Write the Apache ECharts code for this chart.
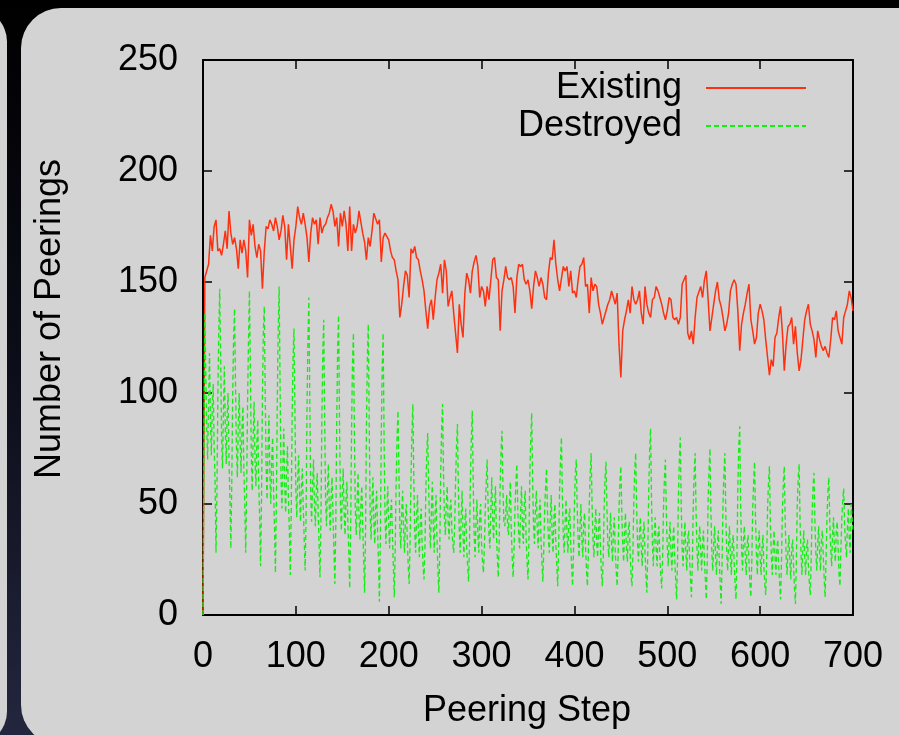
<!DOCTYPE html>
<html>
<head>
<meta charset="utf-8">
<script src="https://cdn.jsdelivr.net/npm/echarts@6/dist/echarts.min.js"></script>
<style>
  html, body { margin: 0; padding: 0; background: #000; }
  #chart { width: 899px; height: 735px; }
</style>
</head>
<body>
<div id="chart"></div>
<script>
// axis ranges / ticks
const xMax = 700
const yMax = 250
const existingStep = 2 // red series sampled every 2 peering steps

// "Existing" peerings, one value every 2 steps (0..700)
const existing = [
  0,152,152,158,171,164,175,178,164,165,
  162,167,173,165,182,172,167,170,165,156,
  169,163,169,164,152,178,171,176,166,161,
  167,164,147,164,175,174,178,176,173,179,
  175,169,173,180,175,160,176,166,156,169,
  175,184,179,176,181,176,170,159,172,179,
  176,178,167,179,172,175,176,179,181,185,
  182,175,179,166,181,175,182,176,164,184,
  164,176,172,175,182,182,172,168,160,170,
  166,173,181,181,176,178,159,170,172,172,
  169,164,161,160,155,
  151,134,140,148,155,153,143,165,163,166,
  161,160,155,151,146,137,129,139,142,133,
  143,151,154,158,145,160,155,139,143,146,
  136,127,118,140,131,125,145,154,151,145,
  155,159,162,157,143,148,146,139,148,142,
  142,160,161,152,151,128,146,151,157,152,
  151,152,148,136,152,158,157,158,151,149,
  151,146,138,148,155,152,148,152,149,143,
  142,154,161,160,169,158,151,146,146,157,
  155,157,148,155,145,146,143,151,157,158,
  161,148,149,136,152,146,149,148,140,136,
  131,134,134,140,142,146,143,140,145,122,
  107,128,133,137,142,136,
  148,142,140,142,146,136,131,148,140,136,
  134,142,143,148,146,143,140,136,133,137,
  143,142,134,133,134,131,134,149,151,153,
  127,124,128,122,134,143,143,148,143,151,
  155,142,128,134,140,146,150,142,139,134,
  128,131,136,146,149,151,149,137,119,131,
  136,140,145,149,133,128,122,125,136,140,
  137,133,124,116,108,115,112,125,127,134,
  139,127,110,122,130,131,134,122,130,118,
  110,115,124,133,137,140,131,128,124,116,
  128,124,121,119,121,118,116,124,134,133,
  137,128,125,122,134,137,140,146,143,137
]

// "Destroyed" peerings, one value per step (0..700)
const destroyed = [
  0, 70,
  136,110, 84, 70, 96,118, 88, 72, 94,104, 76, 60, 28, 55, 98,128,
  147,118, 80, 66, 92,112, 84, 68, 90,100, 70, 52, 30, 60,100,126,
  138,104, 76, 62, 86,100, 78, 64, 84, 94, 66, 50, 28, 56, 96,124,
  146,112, 72, 56, 80, 96, 70, 58, 78, 88, 60, 44, 22, 52, 98,128,
  139,100, 66, 52, 74, 90, 64, 50, 70, 80, 56, 40, 19, 50, 96,130,
  148,104, 62, 48, 68, 84, 58, 46, 66, 76, 52, 38, 18, 46, 90,116,
  129, 92, 56, 44, 62, 72, 54, 42, 58, 66, 48, 34, 20, 44, 92,124,
  143, 98, 54, 42, 58, 70, 50, 40, 56, 64, 46, 32, 17, 42, 88,118,
  133, 90, 52, 40, 56, 68, 48, 38, 54, 62, 44, 30, 14, 40, 86,120,
  135, 88, 50, 38, 54, 66, 46, 36, 52, 60, 42, 28, 12, 38, 84,114,
  127, 84, 48, 36, 52, 64, 44, 34, 50, 58, 40, 26, 10, 36, 84,116,
  131, 86, 46, 34, 50, 62, 42, 32, 48, 56, 38, 24,  6, 34, 82,112,
  127, 80, 44, 32, 48, 58, 40, 30, 46, 52, 36, 22,  8, 30, 60, 80,
   92, 64, 40, 30, 46, 56, 38, 28, 44, 50, 34, 22, 14, 32, 62, 82,
   95, 62, 38, 28, 44, 54, 36, 26, 42, 48, 32, 22, 16, 30, 56, 74,
   82, 58, 40, 30, 48, 60, 40, 28, 46, 54, 34, 20, 10, 30, 64, 84,
   95, 64, 44, 36, 50, 58, 42, 34, 48, 52, 38, 32, 28, 40, 60, 76,
   86, 58, 38, 28, 44, 56, 36, 26, 42, 48, 30, 22, 15, 32, 62, 80,
   92, 60, 36, 26, 42, 52, 36, 28, 44, 50, 32, 24, 19, 30, 48, 60,
   70, 50, 36, 30, 48, 62, 42, 34, 50, 58, 36, 26, 17, 34, 58, 74,
   83, 58, 42, 40, 46, 54, 40, 36, 52, 60, 38, 26, 17, 30, 48, 60,
   68, 48, 36, 30, 46, 58, 40, 32, 50, 56, 34, 24, 16, 34, 64, 80,
   91, 60, 40, 32, 48, 56, 38, 30, 46, 52, 34, 24, 15, 30, 48, 58,
   66, 46, 34, 28, 44, 54, 36, 28, 44, 50, 32, 22, 13, 30, 56, 70,
   80, 54, 36, 28, 42, 52, 36, 28, 44, 48, 32, 22, 13, 28, 50, 64,
   70, 48, 34, 26, 40, 50, 34, 26, 42, 46, 30, 20, 13, 28, 50, 64,
   73, 50, 34, 26, 40, 48, 32, 26, 40, 46, 30, 20, 13, 26, 48, 62,
   69, 48, 32, 26, 38, 46, 32, 24, 38, 44, 28, 20, 13, 26, 48, 60,
   67, 46, 32, 24, 38, 46, 30, 24, 38, 42, 28, 18, 13, 28, 52, 66,
   73, 48, 32, 24, 36, 44, 30, 22, 36, 42, 28, 18, 10, 28, 56, 74,
   84, 52, 32, 22, 36, 44, 30, 22, 36, 40, 26, 18, 12, 26, 50, 62,
   70, 46, 30, 22, 34, 42, 28, 20, 34, 40, 26, 16,  7, 24, 54, 70,
   80, 50, 30, 22, 34, 42, 28, 20, 34, 38, 26, 16,  8, 24, 50, 64,
   73, 46, 30, 20, 34, 40, 28, 20, 32, 38, 24, 16,  7, 24, 52, 66,
   75, 46, 28, 20, 32, 40, 26, 18, 32, 38, 24, 14,  5, 24, 50, 64,
   73, 46, 28, 20, 32, 40, 26, 18, 32, 36, 24, 14,  7, 26, 58, 76,
   85, 50, 30, 20, 34, 40, 26, 18, 32, 36, 24, 14,  8, 24, 48, 60,
   69, 44, 28, 18, 32, 38, 26, 18, 30, 36, 22, 14,  9, 24, 48, 60,
   67, 42, 28, 18, 30, 38, 26, 18, 30, 34, 22, 14,  7, 24, 48, 60,
   67, 42, 26, 18, 30, 36, 24, 16, 30, 34, 22, 12,  5, 24, 50, 62,
   68, 42, 28, 18, 30, 38, 26, 18, 30, 34, 22, 14,  9, 26, 46, 58,
   64, 42, 28, 20, 32, 40, 28, 20, 34, 38, 26, 16,  8, 26, 44, 56,
   62, 42, 30, 22, 36, 44, 30, 24, 38, 42, 30, 18, 13, 30, 44, 52,
   57, 40, 32, 26, 40, 48, 34, 28, 50, 44, 37
]

const FONT = '"Liberation Sans", Arial, Helvetica, sans-serif'
const RED = '#ff3010'
const GREEN = '#14ee14'

const chart = echarts.init(document.getElementById('chart'))

// 坐标轴公共样式（四边内刻度，gnuplot 风格）
const axisCommon = (show) => ({
  axisLine: { show: true, onZero: false, lineStyle: { color: '#000', width: 2 } },
  axisTick: { show: true, inside: true, length: 9, lineStyle: { color: '#000', width: 1.5 } },
  splitLine: { show: false },
  axisLabel: { show: show, color: '#000', fontSize: 36, fontFamily: FONT }
})

// 图例：文字右对齐，线段在右侧
const legendCommon = {
  orient: 'vertical',
  right: 92,
  align: 'right',
  padding: 0,
  itemWidth: 100,
  itemHeight: 40,
  itemGap: 0,
  selectedMode: false,
  itemStyle: { opacity: 0, borderWidth: 0 },
  textStyle: { color: '#000', fontSize: 36, fontFamily: FONT, lineHeight: 40, padding: [0, 19, 0, 0] }
}

const option = {
  animation: false,
  backgroundColor: {
    type: 'linear', x: 0, y: 0, x2: 0, y2: 1,
    colorStops: [{ offset: 0, color: '#000000' }, { offset: 0.5, color: '#0c0d18' }, { offset: 1, color: '#23263e' }]
  },
  graphic: [
    // panels
    { type: 'rect', z: -100, shape: { x: -60, y: 8, width: 67, height: 737, r: 40 }, style: { fill: '#d3d3d3' } },
    { type: 'rect', z: -100, shape: { x: 21, y: 8, width: 960, height: 737, r: 40 }, style: { fill: '#d3d3d3' } },
    // axis titles
    {
      type: 'text', x: 50, y: 319, rotation: Math.PI / 2,
      style: { text: 'Number of Peerings', fill: '#000', fontSize: 36, fontFamily: FONT, align: 'center', verticalAlign: 'middle' }
    },
    {
      type: 'text', x: 527, y: 711,
      style: { text: 'Peering Step', fill: '#000', fontSize: 36, fontFamily: FONT, align: 'center', verticalAlign: 'middle' }
    }
  ],
  grid: { left: 203, right: 46, top: 60, bottom: 120, containLabel: false },
  legend: [
    Object.assign({}, legendCommon, { top: 68, data: ['Existing'] }),
    Object.assign({}, legendCommon, { top: 106, data: ['Destroyed'] })
  ],
  xAxis: [
    Object.assign({ type: 'value', min: 0, max: xMax, interval: 100, position: 'bottom' }, axisCommon(true),
      { axisLabel: { show: true, color: '#000', fontSize: 36, fontFamily: FONT, margin: 24 } }),
    Object.assign({ type: 'value', min: 0, max: xMax, interval: 100, position: 'top' }, axisCommon(false))
  ],
  yAxis: [
    Object.assign({ type: 'value', min: 0, max: yMax, interval: 50, position: 'left' }, axisCommon(true),
      { axisLabel: { show: true, color: '#000', fontSize: 36, fontFamily: FONT, margin: 25 } }),
    Object.assign({ type: 'value', min: 0, max: yMax, interval: 50, position: 'right' }, axisCommon(false))
  ],
  series: [
    {
      name: 'Existing',
      type: 'line',
      xAxisIndex: 0,
      yAxisIndex: 0,
      symbol: 'none',
      showSymbol: false,
      z: 2,
      lineStyle: { color: RED, width: 1.5 },
      itemStyle: { color: RED },
      data: existing.map((v, i) => [i * existingStep, v])
    },
    {
      name: 'Destroyed',
      type: 'line',
      xAxisIndex: 0,
      yAxisIndex: 0,
      symbol: 'none',
      showSymbol: false,
      z: 3,
      lineStyle: { color: GREEN, width: 1.3, type: [5, 3] },
      itemStyle: { color: GREEN },
      data: destroyed.map((v, i) => [i, v])
    }
  ]
}

chart.setOption(option)
</script>
</body>
</html>
